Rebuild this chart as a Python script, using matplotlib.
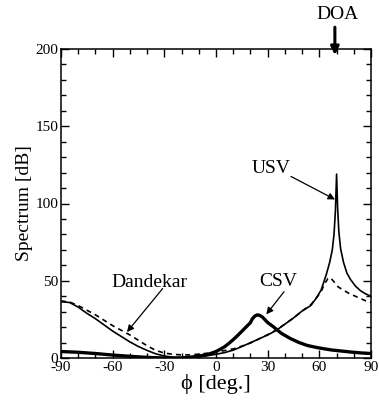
import matplotlib
matplotlib.use("Agg")
import matplotlib.pyplot as plt
from matplotlib.ticker import MultipleLocator

plt.rcParams["font.family"] = ["Liberation Serif", "DejaVu Serif"]
plt.rcParams["axes.unicode_minus"] = False

# USV (thin solid)
usv_phi = [-90, -85, -80, -75, -70, -65, -60, -55, -50, -45, -40, -35, -30, -25,
           -20, -15, -10, -5, 0, 5, 10, 15, 20, 25, 30, 35, 40, 45, 50, 55, 58,
           61, 64, 66, 67.5, 68.5, 69.3, 70, 70.6, 71.3, 72.3, 74, 76, 78, 81,
           84, 87, 90]
usv_db = [36.5, 36, 33, 29, 25.5, 21.5, 17.5, 14, 10.5, 7.5, 5, 2.8, 1.4, 0.6,
          0.3, 0.4, 0.9, 1.6, 2.5, 3.6, 5.2, 7.5, 10, 12.5, 15, 18, 22, 26, 30.5,
          34, 38.5, 44, 54, 62, 70, 80, 95, 119, 97, 82, 71, 62, 55, 51, 46.5,
          43.5, 41.5, 40]

# Dandekar (dashed)
dan_phi = [-90, -85, -80, -75, -70, -65, -60, -55, -50, -45, -40, -35, -30, -25,
           -20, -15, -10, -5, 0, 5, 10, 15, 20, 25, 30, 35, 40, 45, 50, 55, 58,
           61, 63, 65, 66.5, 68, 71, 74, 77, 80, 84, 87, 90]
dan_db = [37, 36.3, 34, 31, 28, 24.5, 21, 18, 15, 11.5, 8, 5, 3.3, 2.5,
          2.1, 2.1, 2.6, 3.2, 4, 4.9, 6, 7.8, 9.8, 12.5, 15.2, 18.2, 22, 26, 30.5,
          34.5, 38.5, 43, 48, 51.5, 52, 50, 46, 44, 42, 40.5, 38.5, 37, 36]

# CSV (thick solid)
csv_phi = [-90, -80, -70, -60, -50, -40, -30, -25, -20, -15, -10, -5, 0, 2.5, 5,
           7.5, 10, 12.5, 15, 17.5, 20, 21, 22.5, 24, 25.5, 27, 30, 33.3, 38, 43,
           48, 53, 58, 62, 67, 72, 78, 84, 90]
csv_db = [4.3, 3.8, 3, 2, 1.2, 0.5, 0.1, 0.05, 0.2, 0.6, 1.3, 2.3, 4.3, 5.8, 7.4,
          9.6, 12, 14.6, 17.4, 20.2, 23, 25.3, 27.2, 28, 27.6, 26.5, 23, 20.3, 16,
          12.8, 10.2, 8.2, 7, 6.2, 5.3, 4.7, 4, 3.4, 3]

fig = plt.figure(figsize=(3.79, 4.07), dpi=100)
ax = fig.add_axes([0.161, 0.120, 0.818, 0.760])

ax.plot(usv_phi, usv_db, color="black", lw=1.2)
ax.plot(dan_phi, dan_db, color="black", lw=1.2, ls=(0, (3, 2.5)))
ax.plot(csv_phi, csv_db, color="black", lw=2.4)

ax.set_xlim(-90, 90)
ax.set_ylim(0, 200)
ax.xaxis.set_major_locator(MultipleLocator(30))
ax.xaxis.set_minor_locator(MultipleLocator(10))
ax.yaxis.set_major_locator(MultipleLocator(50))
ax.yaxis.set_minor_locator(MultipleLocator(10))
ax.tick_params(which="both", direction="in", top=True, right=True,
               labelsize=11, pad=2, width=1)
ax.tick_params(which="major", length=6)
ax.tick_params(which="minor", length=3.5)
for s in ax.spines.values():
    s.set_linewidth(1.1)

ax.set_xlabel("ϕ [deg.]", fontsize=16, labelpad=0)
ax.set_ylabel("Spectrum [dB]", fontsize=14, labelpad=2)

arr = dict(arrowstyle="-|>", color="black", lw=0.9, mutation_scale=10,
           shrinkA=0, shrinkB=0)
ax.text(31.9, 122.7, "USV", fontsize=14, ha="center", va="center")
ax.annotate("", xy=(69.1, 102.6), xytext=(43.5, 117.5), arrowprops=arr)
ax.text(36, 49.4, "CSV", fontsize=14, ha="center", va="center")
ax.annotate("", xy=(29.2, 28.3), xytext=(39.5, 43), arrowprops=arr)
ax.text(-38.9, 48.7, "Dandekar", fontsize=14, ha="center", va="center")
ax.annotate("", xy=(-51.7, 16.9), xytext=(-31, 45), arrowprops=arr)

ax.text(70.8, 222, "DOA", fontsize=14, ha="center", va="center", clip_on=False)
ax.annotate("", xy=(69, 196), xytext=(69, 214), annotation_clip=False,
            arrowprops=dict(arrowstyle="-|>", color="black", lw=2.2,
                            mutation_scale=12, shrinkA=0, shrinkB=0))

fig.savefig("out.png", dpi=100)
